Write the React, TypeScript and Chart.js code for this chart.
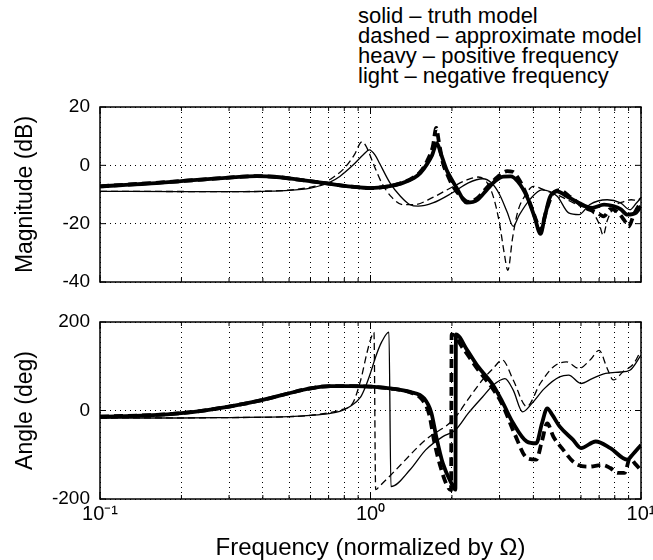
import React, { useEffect, useRef } from 'react';
import { Chart, registerables } from 'chart.js';

Chart.register(...registerables);

const FONT = '"Liberation Sans", Arial, Helvetica, sans-serif';

// ---- text ----
const legendLines = [
  'solid – truth model',
  'dashed – approximate model',
  'heavy – positive frequency',
  'light – negative frequency',
];
const magTitle = 'Magnitude (dB)';
const angTitle = 'Angle (deg)';
const xTitle = 'Frequency (normalized by Ω)';

// ---- ticks ----
const xTickValues = [0.1, 0.2, 0.3, 0.4, 0.5, 0.6, 0.7, 0.8, 0.9, 1, 2, 3, 4, 5, 6, 7, 8, 9, 10];
const xTickLabels: Record<string, string> = { '0.1': '10⁻¹', '1': '10⁰', '10': '10¹' };
const magYTicks = [-40, -20, 0, 20];
const angYTicks = [-200, 0, 200];

// ---- magnitude (dB) ----
const magHeavySolidF = [0.1, 0.15, 0.2, 0.3, 0.38, 0.45, 0.55, 0.69, 0.85, 1.0, 1.15, 1.31, 1.45, 1.53, 1.62, 1.69, 1.76, 1.82, 1.91, 2.0, 2.08, 2.27, 2.49, 2.69, 2.9, 3.1, 3.3, 3.5, 3.8, 4.05, 4.25, 4.4, 4.6, 4.9, 5.3, 5.9, 6.6, 7.3, 7.9, 8.4, 8.9, 9.6, 10];
const magHeavySolidDb = [-7.2, -6.3, -5.4, -4.2, -3.7, -4.0, -5.0, -6.2, -7.3, -7.8, -7.3, -6.1, -4.3, -2.6, 0.5, 3.5, 7.6, 4.0, -1.5, -5.0, -7.7, -12.8, -11.8, -8.4, -5.3, -3.9, -3.8, -5.5, -11, -18, -23.5, -18, -11, -8.9, -10.5, -12.9, -14.6, -13.5, -14, -15, -16.9, -16.2, -14];

const magHeavyDashedF = [0.1, 0.2, 0.3, 0.38, 0.45, 0.55, 0.69, 0.85, 1.0, 1.15, 1.31, 1.45, 1.53, 1.62, 1.7, 1.75, 1.79, 1.85, 1.92, 2.0, 2.15, 2.3, 2.5, 2.7, 2.95, 3.2, 3.35, 3.55, 3.85, 4.1, 4.25, 4.45, 4.7, 5.0, 5.5, 6.2, 6.8, 7.3, 7.7, 8.2, 8.7, 9.0, 9.4, 9.8, 10];
const magHeavyDashedDb = [-7.2, -5.4, -4.2, -3.7, -4.0, -5.0, -6.2, -7.3, -7.8, -7.3, -6.0, -4.0, -2.2, 1.5, 6.5, 12.8, 8, 1, -3, -6.5, -10.5, -12.5, -11, -7.5, -4, -2, -2.2, -5, -12, -19, -22.5, -16, -10, -8.5, -11, -14.5, -16, -17.5, -15, -16, -19, -21, -17, -14, -13];

const magLightSolidF = [0.1, 0.2, 0.3, 0.4, 0.5, 0.6, 0.65, 0.7, 0.77, 0.86, 0.94, 0.99, 1.04, 1.08, 1.18, 1.29, 1.4, 1.5, 1.7, 2.0, 2.3, 2.6, 2.8, 3.0, 3.2, 3.37, 3.55, 3.9, 4.3, 4.9, 5.4, 5.9, 6.45, 7.5, 8.4, 9.1, 9.6, 10];
const magLightSolidDb = [-8.9, -9.0, -9.0, -8.9, -8.6, -7.8, -7.0, -6.0, -3.8, 0, 3.6, 5.3, 3.5, 0.7, -6, -10.6, -13.5, -14, -12.9, -9.5, -6, -4.6, -6, -10, -16, -20.9, -17, -11.5, -8.4, -10.6, -16.3, -16.9, -13.5, -11.8, -12.9, -15.2, -13, -11.2];

const magLightDashedF = [0.1, 0.3, 0.5, 0.6, 0.66, 0.71, 0.8, 0.87, 0.93, 0.97, 1.02, 1.1, 1.2, 1.32, 1.45, 1.7, 2.0, 2.3, 2.5, 2.7, 2.85, 3.0, 3.12, 3.22, 3.35, 3.5, 3.75, 4.0, 4.4, 5.0, 5.8, 6.6, 7.0, 7.25, 7.5, 8.0, 8.6, 9.2, 9.7, 10];
const magLightDashedDb = [-8.9, -9.0, -8.5, -7.5, -6.5, -4.8, -1.0, 3.5, 8.1, 6, 1, -6, -11, -13.5, -13.5, -11, -7.5, -4.8, -4.0, -6, -11, -20, -30, -36, -25, -16, -10, -7.2, -8.5, -10.5, -13.5, -16, -20, -24, -19, -14, -12.5, -11.8, -12, -11];

// ---- angle (deg) ----
const angHeavySolidF = [0.1, 0.15, 0.2, 0.3, 0.4, 0.5, 0.6, 0.71, 0.84, 1.0, 1.18, 1.4, 1.58, 1.68, 1.75, 1.85, 1.99, 2.06, 2.07, 2.28, 2.5, 2.84, 3.07, 3.37, 3.78, 4.1, 4.3, 4.5, 4.7, 5.0, 5.6, 6.0, 6.8, 7.7, 8.9, 9.3, 10];
const angHeavySolidDeg = [-14, -11, -6, 9, 24, 39, 50, 55, 55, 54, 50, 42, 27, -6, -59, -119, -164, -179, 172, 136, 99, 57, 20, -29, -70, -74, -30, 5, -10, -36, -66, -85, -70, -85, -111, -100, -78];

const angHeavyDashedF = [0.1, 0.2, 0.3, 0.4, 0.5, 0.6, 0.71, 0.84, 1.0, 1.18, 1.4, 1.55, 1.65, 1.72, 1.82, 1.92, 1.985, 1.995, 2.2, 2.5, 2.84, 3.07, 3.4, 3.8, 4.1, 4.3, 4.5, 4.75, 5.1, 5.7, 6.4, 7.2, 7.7, 8.2, 8.7, 9.1, 9.5, 10];
const angHeavyDashedDeg = [-14, -6, 9, 24, 39, 50, 55, 55, 54, 50, 41, 25, -10, -70, -130, -170, -180, 172, 140, 92, 48, 14, -51, -108, -111, -70, -29, -60, -85, -119, -127, -123, -130, -141, -141, -108, -120, -135];

const angLightSolidF = [0.1, 0.2, 0.3, 0.4, 0.5, 0.6, 0.7, 0.77, 0.84, 0.92, 0.96, 1.0, 1.05, 1.1, 1.17, 1.19, 1.4, 1.6, 1.85, 2.06, 2.3, 2.6, 2.84, 3.14, 3.37, 3.65, 3.95, 4.4, 5.0, 5.4, 6.0, 6.6, 7.4, 8.4, 9.1, 10];
const angLightSolidDeg = [-17, -17, -16, -15, -14, -11, -7, -2, 9, 31, 55, 85, 125, 155, 177, -172, -134, -89, -59, -44, -6, 31, 57, 72, 46, -3, 16, 50, 76, 80, 61, 72, 84, 87, 91, 125];

const angLightDashedF = [0.1, 0.3, 0.5, 0.6, 0.7, 0.78, 0.86, 0.92, 0.97, 1.0, 1.03, 1.045, 1.08, 1.21, 1.6, 2.02, 2.33, 2.6, 2.84, 3.07, 3.37, 3.78, 4.24, 4.75, 5.3, 5.9, 6.5, 7.0, 7.5, 7.9, 8.6, 9.4, 10];
const angLightDashedDeg = [-17, -16, -14, -11, -5, 2, 17, 69, 130, 160, 177, -179, -171, -141, -66, -21, 31, 70, 95, 114, 69, 9, 61, 99, 110, 95, 115, 136, 95, 69, 88, 106, 136];

// ---- helpers ----
const zip = (f: number[], v: number[]) => f.map((x, i) => ({ x, y: v[i] }));
const isDecade = (v: number) => Math.abs(Math.log10(v) - Math.round(Math.log10(v))) < 1e-6;
const keyOf = (v: number) => String(Math.round(v * 1000) / 1000);

const HEAVY = 3.8;
const LIGHT = 1.3;

function ds(data: { x: number; y: number }[], heavy: boolean, dashed: boolean, label: string) {
  return {
    label,
    data,
    borderColor: '#000',
    backgroundColor: '#000',
    borderWidth: heavy ? HEAVY : LIGHT,
    borderDash: dashed ? (heavy ? [9, 5] : [7, 4]) : [],
    pointRadius: 0,
    fill: false,
    cubicInterpolationMode: 'monotone' as const,
  };
}

const framePlugin = {
  id: 'matlabFrame',
  afterDatasetsDraw(chart: any) {
    const { ctx, chartArea: a, scales } = chart;
    ctx.save();
    ctx.setLineDash([]);
    ctx.strokeStyle = '#000';
    ctx.lineWidth = 1.5;
    ctx.strokeRect(a.left, a.top, a.right - a.left, a.bottom - a.top);
    ctx.lineWidth = 1;
    const ys = scales.y;
    ctx.beginPath();
    ys.ticks.forEach((t: any) => {
      const p = ys.getPixelForValue(t.value);
      ctx.moveTo(a.left, p);
      ctx.lineTo(a.left + 6, p);
      ctx.moveTo(a.right, p);
      ctx.lineTo(a.right - 6, p);
    });
    const xs = scales.x;
    xs.ticks.forEach((t: any) => {
      const p = xs.getPixelForValue(t.value);
      const L = isDecade(t.value) ? 7 : 4;
      ctx.moveTo(p, a.bottom);
      ctx.lineTo(p, a.bottom - L);
      ctx.moveTo(p, a.top);
      ctx.lineTo(p, a.top + L);
    });
    ctx.stroke();
    ctx.restore();
  },
};

function makeOptions(isMag: boolean): any {
  const yTicks = isMag ? magYTicks : angYTicks;
  return {
    animation: false,
    responsive: false,
    maintainAspectRatio: false,
    layout: {
      padding: isMag ? { top: 19, bottom: 11, left: 0, right: 12 } : { top: 26, bottom: 0, left: 0, right: 12 },
    },
    plugins: { legend: { display: false }, tooltip: { enabled: false }, title: { display: false } },
    scales: {
      x: {
        type: 'logarithmic',
        min: 0.1,
        max: 10,
        afterBuildTicks: (s: any) => {
          s.ticks = xTickValues.map((v) => ({ value: v }));
        },
        afterFit: (s: any) => {
          s.paddingLeft = 0;
          s.paddingRight = 0;
          s.height = isMag ? 0 : 61;
        },
        ticks: {
          display: !isMag,
          autoSkip: false,
          maxRotation: 0,
          minRotation: 0,
          padding: 3,
          color: '#000',
          font: { family: FONT, size: 20 },
          callback: (v: any) => (isDecade(Number(v)) ? xTickLabels[keyOf(Number(v))] || '' : ''),
        },
        grid: { color: '#000', lineWidth: 1, drawTicks: false },
        border: { display: false, dash: [1, 4] },
        title: {
          display: !isMag,
          text: xTitle,
          color: '#000',
          font: { family: FONT, size: 24, lineHeight: 1.0 },
          padding: { top: 0, bottom: 0 },
        },
      },
      y: {
        type: 'linear',
        min: yTicks[0],
        max: yTicks[yTicks.length - 1],
        afterBuildTicks: (s: any) => {
          s.ticks = yTicks.map((v) => ({ value: v }));
        },
        afterFit: (s: any) => {
          s.width = 100;
          s.paddingTop = 0;
          s.paddingBottom = 0;
        },
        ticks: {
          padding: 10,
          color: '#000',
          font: { family: FONT, size: 19 },
          callback: (v: any) => String(v),
        },
        grid: { color: '#000', lineWidth: 1, drawTicks: false },
        border: { display: false, dash: [1, 4] },
        title: {
          display: true,
          text: isMag ? magTitle : angTitle,
          color: '#000',
          font: { family: FONT, size: 23, lineHeight: 1.2 },
          padding: { top: 12, bottom: 0 },
        },
      },
    },
  };
}

export default function App() {
  const magRef = useRef<HTMLCanvasElement>(null);
  const angRef = useRef<HTMLCanvasElement>(null);

  useEffect(() => {
    const magChart = new Chart(magRef.current!, {
      type: 'line',
      data: {
        datasets: [
          ds(zip(magLightSolidF, magLightSolidDb), false, false, 'negative frequency, truth'),
          ds(zip(magLightDashedF, magLightDashedDb), false, true, 'negative frequency, approximate'),
          ds(zip(magHeavySolidF, magHeavySolidDb), true, false, 'positive frequency, truth'),
          ds(zip(magHeavyDashedF, magHeavyDashedDb), true, true, 'positive frequency, approximate'),
        ],
      },
      options: makeOptions(true),
      plugins: [framePlugin],
    } as any);
    const angChart = new Chart(angRef.current!, {
      type: 'line',
      data: {
        datasets: [
          ds(zip(angLightSolidF, angLightSolidDeg), false, false, 'negative frequency, truth'),
          ds(zip(angLightDashedF, angLightDashedDeg), false, true, 'negative frequency, approximate'),
          ds(zip(angHeavySolidF, angHeavySolidDeg), true, false, 'positive frequency, truth'),
          ds(zip(angHeavyDashedF, angHeavyDashedDeg), true, true, 'positive frequency, approximate'),
        ],
      },
      options: makeOptions(false),
      plugins: [framePlugin],
    } as any);
    return () => {
      magChart.destroy();
      angChart.destroy();
    };
  }, []);

  return (
    <div
      style={{
        position: 'absolute',
        left: 0,
        top: 0,
        width: 653,
        height: 560,
        background: '#fff',
        overflow: 'hidden',
      }}
    >
      <div
        style={{
          position: 'absolute',
          left: 358,
          top: 6,
          fontFamily: FONT,
          fontSize: 22,
          lineHeight: '20px',
          color: '#000',
          whiteSpace: 'pre',
        }}
      >
        {legendLines.map((l) => (
          <div key={l}>{l}</div>
        ))}
      </div>
      <canvas
        ref={magRef}
        width={653}
        height={205}
        style={{ position: 'absolute', left: 0, top: 88, width: 653, height: 205, display: 'block' }}
      />
      <canvas
        ref={angRef}
        width={653}
        height={264}
        style={{ position: 'absolute', left: 0, top: 296, width: 653, height: 264, display: 'block' }}
      />
    </div>
  );
}
